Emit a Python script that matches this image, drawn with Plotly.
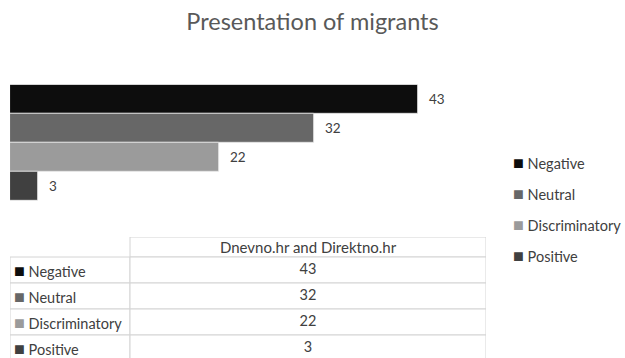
import plotly.graph_objects as go

# Coverage categories and article counts
categories = ["Negative", "Neutral", "Discriminatory", "Positive"]
counts = [43, 32, 22, 3]
colors = ["#0d0d0d", "#676767", "#9b9b9b", "#404040"]
source_label = "Dnevno.hr and Direktno.hr"
title_text = "Presentation of migrants"

W, H = 625, 358
FONT = "Lato"
TXT = "#404040"
GRID = "#d4d4d4"
LBL = 14.5


def keyed(cat, col):
    """Category name preceded by its colour key square."""
    return f"<span style='color:{col};font-size:18px'>■</span> {cat}"


fig = go.Figure()

# ---- bar chart: one trace per category so each keeps its own colour
for cat, val, col in zip(categories, counts, colors):
    fig.add_trace(go.Bar(
        x=[val], y=[cat], orientation="h",
        marker=dict(color=col, line=dict(color="#e6e6e6", width=0.8)),
        showlegend=False, hoverinfo="skip", xaxis="x", yaxis="y",
    ))
    fig.add_annotation(
        x=val, y=cat, xref="x", yref="y", text=str(val),
        xanchor="left", yanchor="middle", xshift=9, showarrow=False,
        font=dict(family=FONT, size=13.5, color=TXT),
    )

# ---- legend on the right, built from the categories
leg_y0, leg_dy = 161.5, 31
for i, (cat, col) in enumerate(zip(categories, colors)):
    fig.add_annotation(
        x=511 / W, y=1 - (leg_y0 + i * leg_dy) / H, xref="paper", yref="paper",
        text=keyed(cat, col),
        xanchor="left", yanchor="middle", showarrow=False,
        font=dict(family=FONT, size=LBL, color=TXT),
    )

# ---- data table on its own axes: one y unit per row, x in column-width units
col_widths = [120, 356]
x_split = col_widths[0]
x_end = sum(col_widths)
header_rows = 20 / 26          # header is a little shorter than a body row
n_rows = len(categories)

# header cell (the corner cell above the labels stays blank)
fig.add_shape(type="rect", xref="x2", yref="y2",
              x0=x_split, x1=x_end, y0=-header_rows, y1=0,
              line=dict(color=GRID, width=1), fillcolor="white", layer="below")
# body cells
for i in range(n_rows):
    for x0, x1 in [(0, x_split), (x_split, x_end)]:
        fig.add_shape(type="rect", xref="x2", yref="y2",
                      x0=x0, x1=x1, y0=i, y1=i + 1,
                      line=dict(color=GRID, width=1), fillcolor="white",
                      layer="below")

# header text
fig.add_annotation(x=(x_split + x_end) / 2, y=-header_rows / 2, xref="x2", yref="y2",
                   text=source_label, showarrow=False,
                   xanchor="center", yanchor="middle",
                   font=dict(family=FONT, size=15, color=TXT))
# row labels with their colour keys
for i, (cat, col) in enumerate(zip(categories, colors)):
    fig.add_annotation(x=2, y=i + 0.5, xref="x2", yref="y2",
                       text=keyed(cat, col),
                       showarrow=False, xanchor="left", yanchor="middle",
                       font=dict(family=FONT, size=LBL, color=TXT))
# values column
fig.add_trace(go.Scatter(
    x=[(x_split + x_end) / 2] * n_rows,
    y=[i + 0.5 for i in range(n_rows)],
    text=[str(v) for v in counts], mode="text", textposition="middle center",
    textfont=dict(family=FONT, size=14.5, color=TXT),
    showlegend=False, hoverinfo="skip", xaxis="x2", yaxis="y2",
    cliponaxis=False,
))

table_top_px = 237
table_h_units = (H - table_top_px) / 26

fig.update_layout(
    width=W, height=H,
    margin=dict(l=0, r=0, t=0, b=0),
    paper_bgcolor="white", plot_bgcolor="rgba(0,0,0,0)",
    barmode="overlay", bargap=0,
    title=dict(text=title_text, x=0.5, xanchor="center",
               y=1 - 22 / H, yanchor="middle",
               font=dict(family=FONT, size=23.5, color="#595959")),
    xaxis=dict(domain=[10 / W, 1], range=[0, 615 / (408 / 43)],
               visible=False, fixedrange=True),
    yaxis=dict(domain=[1 - 200.5 / H, 1 - 84.7 / H],
               categoryorder="array", categoryarray=categories,
               range=[3.5, -0.5], visible=False, fixedrange=True),
    xaxis2=dict(domain=[10 / W, (10 + x_end) / W], range=[0, x_end],
                anchor="y2", visible=False, fixedrange=True),
    yaxis2=dict(domain=[0, 1 - table_top_px / H],
                range=[-header_rows + table_h_units, -header_rows],
                anchor="x2", visible=False, fixedrange=True),
    font=dict(family=FONT),
)

fig.write_html("out.html", config={"displayModeBar": False})
